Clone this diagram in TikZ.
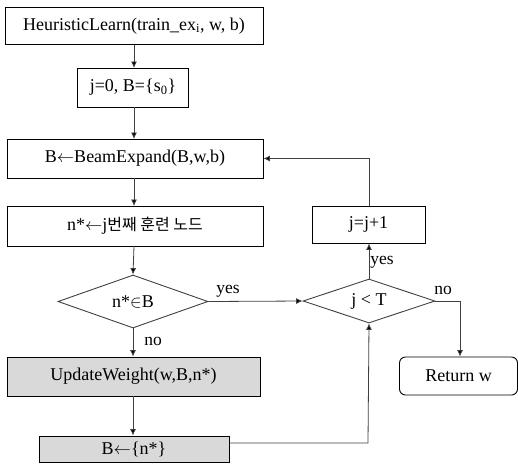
\documentclass[tikz,border=0pt]{standalone}
\usepackage{fontspec}
\setmainfont{Liberation Serif}
\newfontfamily\krfont{Noto Sans CJK KR}
\usetikzlibrary{shapes.geometric,arrows.meta}
\begin{document}
\begin{tikzpicture}[x=1pt,y=-1pt,
  every node/.style={font=\fontsize{18}{20}\selectfont, inner sep=0pt},
  box/.style={draw=black, line width=0.9pt, rectangle, anchor=center},
  greybox/.style={box, fill=black!15},
  decision/.style={draw=black!75, line width=0.9pt, diamond, anchor=center},
  lab/.style={font=\fontsize{17.5}{19}\selectfont},
  conn/.style={draw=black!75, line width=0.8pt, -{Latex[length=6.5pt,width=6pt,fill=black]}}
]
\useasboundingbox (0,0) rectangle (518,464);

\node[box, minimum width=258pt, minimum height=37pt] (b1) at (134,26) {HeuristicLearn(train\_ex\textsubscript{i}, w, b)};
\node[box, minimum width=111pt, minimum height=39pt] (b2) at (133,87.5) {j=0, B=\{s\textsubscript{0}\}};
\node[box, minimum width=256pt, minimum height=39pt] (b3) at (135,158.5) {B$\leftarrow$BeamExpand(B,w,b)};
\node[box, minimum width=256pt, minimum height=40pt] (b4) at (135,226) {n*$\leftarrow$j{\krfont\fontsize{16}{18}\selectfont 번째 훈련 노드}};
\node[decision, minimum width=150pt, minimum height=53pt, aspect=2.8] (d1) at (133,301.5) {n*$\in$B};
\node[greybox, minimum width=253pt, minimum height=39pt] (upd) at (133.5,376.5) {UpdateWeight(w,B,n*)};
\node[greybox, minimum width=190pt, minimum height=26pt] (bs) at (134,449) {B$\leftarrow$\{n*\}};
\node[decision, minimum width=132pt, minimum height=44pt, aspect=3] (d2) at (369,301) {j < T};
\node[box, minimum width=113pt, minimum height=37pt] (jj) at (368.5,224.5) {j=j+1};
\node[box, rounded corners=6pt, minimum width=118pt, minimum height=38pt] (ret) at (458.5,376) {Return w};

\coordinate (c1) at (368,443);
\coordinate (c2) at (368,158.5);
\coordinate (c3) at (460,301);

\draw[conn] (b1.south -| 134,0) -- (134,68);
\draw[conn] (134,107) -- (134,139);
\draw[conn] (134,178) -- (134,206);
\draw[conn] (134,246) -- (d1.north);
\draw[conn] (d1.south) -- (upd.north -| d1.south);
\draw[conn] (upd.south -| d1.south) -- (bs.north -| d1.south);
\draw[conn] (bs.east |- c1) -- (c1) -- (d2.south);
\draw[conn] (d1.east) -- (d2.west);
\draw[conn] (d2.north) -- (jj.south -| d2.north);
\draw[conn] (jj.north -| d2.north) -- (c2 -| d2.north) -- (b3.east);
\draw[conn] (d2.east) -- (c3) -- (ret.north -| c3);

\node[lab] (ly1) at (228,291) {yes};
\node[lab] (ln1) at (153,341) {no};
\node[lab] (ly2) at (382,262) {yes};
\node[lab] (ln2) at (443,290) {no};
\end{tikzpicture}
\end{document}
